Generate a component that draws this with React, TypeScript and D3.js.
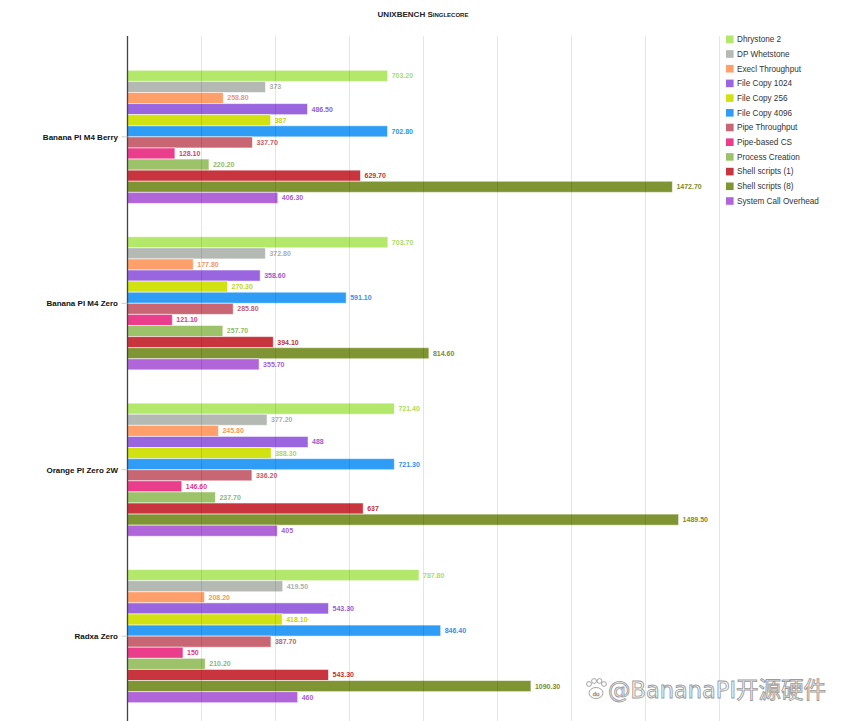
import { useEffect, useMemo } from "react";
import * as d3 from "d3";

const WIDTH = 847;
const HEIGHT = 721;

const devices = ["Banana PI M4 Berry", "Banana PI M4 Zero", "Orange PI Zero 2W", "Radxa Zero"];

const tests = [
  "Dhrystone 2",
  "DP Whetstone",
  "Execl Throughput",
  "File Copy 1024",
  "File Copy 256",
  "File Copy 4096",
  "Pipe Throughput",
  "Pipe-based CS",
  "Process Creation",
  "Shell scripts (1)",
  "Shell scripts (8)",
  "System Call Overhead",
];

const testColors = [
  "#b3e86a",
  "#b4b9b4",
  "#ffa06a",
  "#9966e0",
  "#d1e112",
  "#2f9df5",
  "#c86773",
  "#ea3d8b",
  "#9dc36a",
  "#c8353f",
  "#7f9432",
  "#b066d9",
];

// one array per device, in the order of `tests`
const berryValues = [703.2, 373, 258.8, 486.5, 387, 702.8, 337.7, 128.1, 220.2, 629.7, 1472.7, 406.3];
const m4ZeroValues = [703.7, 372.8, 177.8, 358.6, 270.3, 591.1, 285.8, 121.1, 257.7, 394.1, 814.6, 355.7];
const orangeValues = [721.4, 377.2, 245.8, 488, 388.3, 721.3, 336.2, 146.6, 237.7, 637, 1489.5, 405];
const radxaValues = [787.8, 419.5, 208.2, 543.3, 418.1, 846.4, 387.7, 150, 210.2, 543.3, 1090.3, 460];

const deviceValues = [berryValues, m4ZeroValues, orangeValues, radxaValues];

const xTicks = [200, 400, 600, 800, 1000, 1200, 1400, 1600];

const MARGIN = { top: 37, left: 127.5, right: 127.5, bottom: -15 };

const fmt = (v: number) => (Number.isInteger(v) ? String(v) : v.toFixed(2));

export default function App() {
  useEffect(() => {
    document.body.style.margin = "0";
  }, []);

  const xScale = useMemo(
    () => d3.scaleLinear().domain([0, 1600]).range([MARGIN.left, WIDTH - MARGIN.right]),
    []
  );
  // plot runs a bit past the bottom of the picture
  const yScale = useMemo(
    () => d3.scaleBand<string>().domain(devices).range([MARGIN.top, HEIGHT - MARGIN.bottom]).paddingInner(0.2).paddingOuter(0.2),
    []
  );
  const innerScale = useMemo(
    () => d3.scaleBand<string>().domain(tests).range([0, yScale.bandwidth()]).padding(0),
    [yScale]
  );

  const font = "'Liberation Sans', Arial, sans-serif";
  const plotTop = 36;

  return (
    <svg width={WIDTH} height={HEIGHT} style={{ display: "block", fontFamily: font }}>
      <rect width={WIDTH} height={HEIGHT} fill="#fff" />

      {/* title */}
      <text x={423} y={17} textAnchor="middle" fontSize={8} fontWeight="bold" fill="#222" style={{ fontVariant: "small-caps" }}>
        UNIXBENCH Singlecore
      </text>

      {/* bars */}
      {devices.map((dev, di) => (
        <g key={dev} transform={`translate(0,${yScale(dev)})`}>
          {deviceValues[di].map((v, ti) => {
            const y = innerScale(tests[ti]) ?? 0;
            const h = innerScale.bandwidth();
            return (
              <g key={tests[ti]}>
                <rect
                  x={xScale(0)}
                  y={y}
                  width={xScale(v) - xScale(0)}
                  height={h}
                  fill={testColors[ti]}
                  stroke="#fff"
                  strokeOpacity={0.55}
                  strokeWidth={1}
                />
                <text
                  x={xScale(v) + 4}
                  y={y + h / 2}
                  dy="0.35em"
                  fontSize={7}
                  fontWeight="bold"
                  fill={d3.color(testColors[ti])!.darker(0.15).formatHex()}
                  stroke="#fff"
                  strokeWidth={1.5}
                  strokeOpacity={0.8}
                  style={{ paintOrder: "stroke" }}
                >
                  {fmt(v)}
                </text>
              </g>
            );
          })}
        </g>
      ))}

      {/* grid lines on top of bars */}
      {xTicks.map((t) => (
        <line key={t} x1={xScale(t)} x2={xScale(t)} y1={plotTop} y2={HEIGHT} stroke="#000" strokeOpacity={0.1} strokeWidth={1} />
      ))}

      {/* y axis */}
      <line x1={xScale(0)} x2={xScale(0)} y1={plotTop} y2={HEIGHT} stroke="#444" strokeWidth={1.3} />
      {devices.map((dev) => {
        const cy = (yScale(dev) ?? 0) + yScale.bandwidth() / 2;
        return (
          <g key={dev}>
            <line x1={xScale(0) - 6} x2={xScale(0)} y1={cy} y2={cy} stroke="#ccc" strokeWidth={1} />
            <text x={118} y={cy} dy="0.35em" textAnchor="end" fontSize={8} fontWeight="bold" fill="#111">
              {dev}
            </text>
          </g>
        );
      })}

      {/* legend */}
      {tests.map((t, i) => {
        const cy = 39.3 + i * 14.7;
        return (
          <g key={t}>
            <rect x={726} y={cy - 3.8} width={7.6} height={7.6} fill={testColors[i]} />
            <text x={737} y={cy} dy="0.35em" fontSize={8.2} fill="#333">
              {t}
            </text>
          </g>
        );
      })}

      {/* watermark */}
      <g stroke="#9a9a9a" strokeWidth={0.9} fill="#fff">
        <ellipse cx={596} cy={693} rx={7} ry={5.5} />
        <circle cx={589} cy={684} r={2.4} />
        <circle cx={594} cy={681} r={2.4} />
        <circle cx={599.5} cy={681} r={2.4} />
        <circle cx={604} cy={684} r={2.4} />
        <text x={596} y={696} textAnchor="middle" fontSize={6} strokeWidth={0.4} fill="#999">
          du
        </text>
      </g>
      <text x={608} y={698} fontSize={22.5} fill="#fff" stroke="#9a9a9a" strokeWidth={0.9} fontFamily="'DejaVu Sans', 'Noto Sans CJK SC', sans-serif">
        @BananaPI开源硬件
      </text>
    </svg>
  );
}
